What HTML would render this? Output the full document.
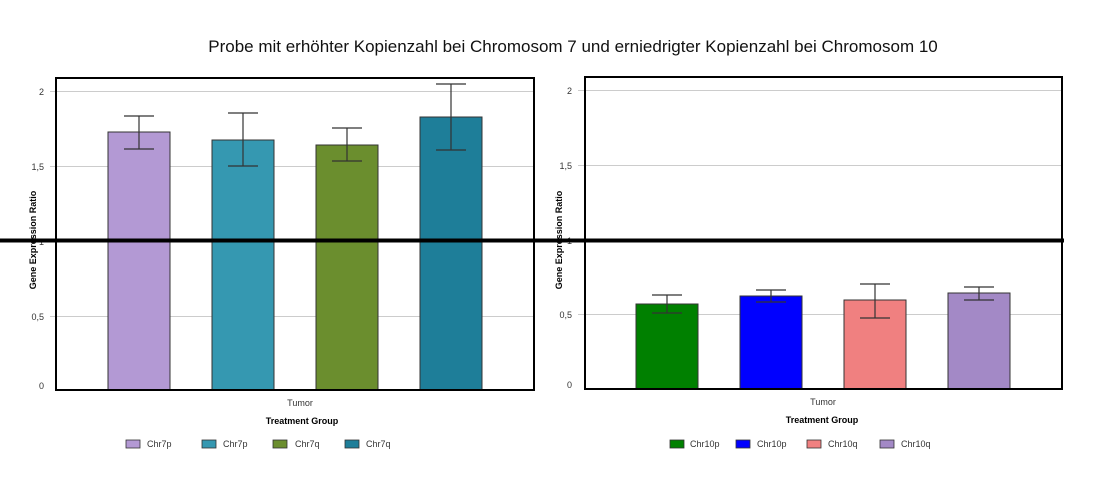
<!DOCTYPE html>
<html><head><meta charset="utf-8"><style>body{margin:0;background:#fff}svg{display:block}text{font-family:"Liberation Sans",sans-serif}</style></head><body>
<svg width="1110" height="486" viewBox="0 0 1110 486" xmlns="http://www.w3.org/2000/svg">
<text x="573" y="52" font-size="17" text-anchor="middle" fill="#111">Probe mit erhöhter Kopienzahl bei Chromosom 7 und erniedrigter Kopienzahl bei Chromosom 10</text>
<g stroke="#ccc" stroke-width="1">
<line x1="50" y1="91.5" x2="535" y2="91.5"/><line x1="50" y1="166.5" x2="535" y2="166.5"/><line x1="50" y1="316.5" x2="535" y2="316.5"/>
<line x1="578" y1="90.5" x2="1062" y2="90.5"/><line x1="578" y1="165.5" x2="1062" y2="165.5"/><line x1="578" y1="314.5" x2="1062" y2="314.5"/>
</g>
<g font-size="9" fill="#333" text-anchor="end">
<text x="44" y="95">2</text><text x="44" y="170">1,5</text><text x="44" y="245">1</text><text x="44" y="320">0,5</text><text x="44" y="389">0</text>
<text x="572" y="94">2</text><text x="572" y="169">1,5</text><text x="572" y="244">1</text><text x="572" y="318">0,5</text><text x="572" y="388">0</text>
</g>
<text transform="translate(36,240) rotate(-90)" font-size="9" font-weight="bold" text-anchor="middle">Gene Expression Ratio</text>
<text transform="translate(562,240) rotate(-90)" font-size="9" font-weight="bold" text-anchor="middle">Gene Expression Ratio</text>
<g stroke="#333" stroke-width="1">
<rect x="108" y="132" width="62" height="258" fill="#b399d4"/>
<rect x="212" y="140" width="62" height="250" fill="#3598b1"/>
<rect x="316" y="145" width="62" height="245" fill="#6b8e2e"/>
<rect x="420" y="117" width="62" height="273" fill="#1e7e99"/>
<rect x="636" y="304" width="62" height="85" fill="#008000"/>
<rect x="740" y="296" width="62" height="93" fill="#0000ff"/>
<rect x="844" y="300" width="62" height="89" fill="#f08080"/>
<rect x="948" y="293" width="62" height="96" fill="#a389c6"/>
</g>
<g stroke="#333" stroke-width="1.2" fill="none">
<path d="M139 116V149M124 116H154M124 149H154"/>
<path d="M243 113V166M228 113H258M228 166H258"/>
<path d="M347 128V161M332 128H362M332 161H362"/>
<path d="M451 84V150M436 84H466M436 150H466"/>
<path d="M667 295V313M652 295H682M652 313H682"/>
<path d="M771 290V302M756 290H786M756 302H786"/>
<path d="M875 284V318M860 284H890M860 318H890"/>
<path d="M979 287V300M964 287H994M964 300H994"/>
</g>
<rect x="56" y="78" width="478" height="312" fill="none" stroke="#000" stroke-width="2"/>
<rect x="585" y="77" width="477" height="312" fill="none" stroke="#000" stroke-width="2"/>
<line x1="0" y1="240.5" x2="1064" y2="240.5" stroke="#000" stroke-width="4"/>
<text x="300" y="406" font-size="9" fill="#333" text-anchor="middle">Tumor</text>
<text x="302" y="424" font-size="9" font-weight="bold" text-anchor="middle">Treatment Group</text>
<text x="823" y="405" font-size="9" fill="#333" text-anchor="middle">Tumor</text>
<text x="822" y="423" font-size="9" font-weight="bold" text-anchor="middle">Treatment Group</text>
<g stroke="#333" stroke-width="0.8">
<rect x="126" y="440" width="14" height="8" fill="#b399d4"/>
<rect x="202" y="440" width="14" height="8" fill="#3598b1"/>
<rect x="273" y="440" width="14" height="8" fill="#6b8e2e"/>
<rect x="345" y="440" width="14" height="8" fill="#1e7e99"/>
<rect x="670" y="440" width="14" height="8" fill="#008000"/>
<rect x="736" y="440" width="14" height="8" fill="#0000ff"/>
<rect x="807" y="440" width="14" height="8" fill="#f08080"/>
<rect x="880" y="440" width="14" height="8" fill="#a389c6"/>
</g>
<g font-size="9" fill="#333">
<text x="147" y="447">Chr7p</text><text x="223" y="447">Chr7p</text><text x="295" y="447">Chr7q</text><text x="366" y="447">Chr7q</text>
<text x="690" y="447">Chr10p</text><text x="757" y="447">Chr10p</text><text x="828" y="447">Chr10q</text><text x="901" y="447">Chr10q</text>
</g>
</svg>
</body></html>
